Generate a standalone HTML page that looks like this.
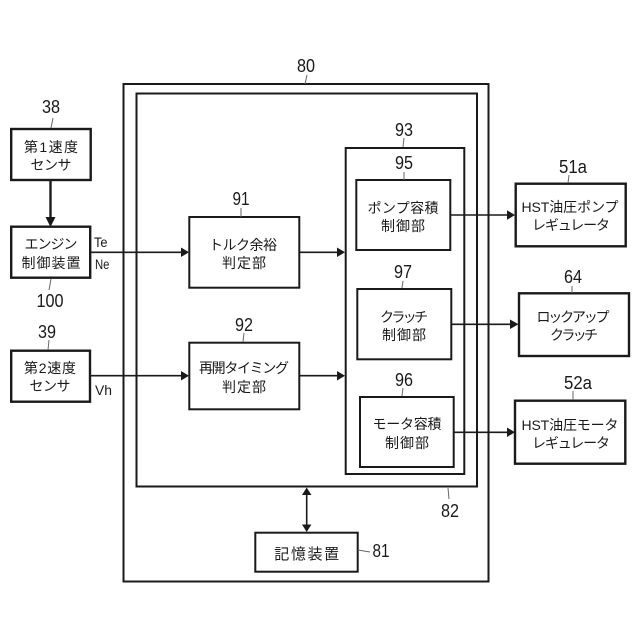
<!DOCTYPE html>
<html><head><meta charset="utf-8">
<style>
html,body{margin:0;padding:0;background:#fff;width:640px;height:640px;overflow:hidden}
svg{display:block}
.j{font-family:"Liberation Sans","Noto Sans CJK JP",sans-serif;font-size:14px;fill:#1a1a1a;text-anchor:middle}
.n{font-family:"Liberation Sans",sans-serif;font-size:18px;fill:#1a1a1a;text-anchor:middle}
.s{font-family:"Liberation Sans",sans-serif;font-size:14px;fill:#1a1a1a}
.b{fill:none;stroke:#1a1a1a;stroke-width:2}
.t{fill:none;stroke:#1a1a1a;stroke-width:2.4}
.l{stroke:#1a1a1a;stroke-width:1.6;fill:none}
.k{stroke:#666;stroke-width:1;fill:none}
.a{fill:#1a1a1a;stroke:none}
</style></head><body>
<svg width="640" height="640" viewBox="0 0 640 640" xmlns="http://www.w3.org/2000/svg">
<rect class="b" x="123.5" y="84" width="365" height="497.5"/>
<rect class="b" x="136.5" y="93.5" width="340.5" height="393"/>
<rect class="b" x="345.7" y="148" width="118.6" height="326"/>
<rect class="b" x="189.3" y="217" width="110" height="70.7"/>
<rect class="b" x="189.3" y="342.7" width="110" height="66.6"/>
<rect class="b" x="356.3" y="180" width="94" height="70"/>
<rect class="b" x="357.3" y="289" width="94" height="70.3"/>
<rect class="b" x="360" y="397" width="93.7" height="70"/>
<rect class="b" x="255.3" y="532.7" width="102.4" height="39"/>
<rect class="t" x="11.2" y="129" width="79.5" height="51"/>
<rect class="t" x="11.2" y="226.7" width="79" height="51"/>
<rect class="t" x="11.2" y="350.7" width="78.8" height="51"/>
<rect class="t" x="515.7" y="183.7" width="110" height="62.6"/>
<rect class="t" x="519" y="293.3" width="110" height="62.7"/>
<rect class="t" x="515" y="400.7" width="110.3" height="63"/>

<line class="t" x1="50.5" y1="180" x2="50.5" y2="218"/><polygon class="a" points="45.5,217 55.5,217 50.5,227"/>
<line class="l" x1="90" y1="252.3" x2="182" y2="252.3"/><polygon class="a" points="181,247.5 189,252.3 181,257"/>
<line class="l" x1="90" y1="375.7" x2="182" y2="375.7"/><polygon class="a" points="181,371 189,375.7 181,380.5"/>
<line class="l" x1="299" y1="252.3" x2="338" y2="252.3"/><polygon class="a" points="337,247.5 345,252.3 337,257"/>
<line class="l" x1="299" y1="375.7" x2="338" y2="375.7"/><polygon class="a" points="337,371 345,375.7 337,380.5"/>
<line class="l" x1="450" y1="215" x2="508" y2="215"/><polygon class="a" points="507,210.3 515,215 507,219.8"/>
<line class="l" x1="451" y1="324.3" x2="511" y2="324.3"/><polygon class="a" points="510,319.5 518.5,324.3 510,329"/>
<line class="l" x1="453.5" y1="432.3" x2="508" y2="432.3"/><polygon class="a" points="507,427.5 515,432.3 507,437"/>
<line class="l" x1="306.7" y1="494" x2="306.7" y2="526"/><polygon class="a" points="306.7,487.5 302,495 311.4,495"/><polygon class="a" points="306.7,532 302,524.5 311.4,524.5"/>

<path class="k" d="M53 118L51 128M51 279L49 290M49 340L48 350M307 75L305 84M241 208L241 217M244 333L243 342M404 138L403 147M404 172L404 180M403 281L402 288M403 388L402 396M569 175L568 183M572 286L572 293M573 391L573 400M448 488L449 499M358 550L370 552"/>

<text class="n" x="51" y="113" textLength="18" lengthAdjust="spacingAndGlyphs">38</text>
<text class="n" x="50" y="307" textLength="27" lengthAdjust="spacingAndGlyphs">100</text>
<text class="n" x="47" y="338" textLength="18" lengthAdjust="spacingAndGlyphs">39</text>
<text class="n" x="306" y="72" textLength="18" lengthAdjust="spacingAndGlyphs">80</text>
<text class="n" x="241" y="205" textLength="17" lengthAdjust="spacingAndGlyphs">91</text>
<text class="n" x="244" y="331" textLength="18" lengthAdjust="spacingAndGlyphs">92</text>
<text class="n" x="404" y="136" textLength="18" lengthAdjust="spacingAndGlyphs">93</text>
<text class="n" x="404" y="169" textLength="18" lengthAdjust="spacingAndGlyphs">95</text>
<text class="n" x="403" y="278" textLength="18" lengthAdjust="spacingAndGlyphs">97</text>
<text class="n" x="404" y="386" textLength="18" lengthAdjust="spacingAndGlyphs">96</text>
<text class="n" x="573" y="173" textLength="28" lengthAdjust="spacingAndGlyphs">51a</text>
<text class="n" x="573" y="283" textLength="18" lengthAdjust="spacingAndGlyphs">64</text>
<text class="n" x="578" y="389" textLength="28" lengthAdjust="spacingAndGlyphs">52a</text>
<text class="n" x="450" y="517" textLength="18" lengthAdjust="spacingAndGlyphs">82</text>
<text class="n" x="381" y="557" textLength="17" lengthAdjust="spacingAndGlyphs">81</text>

<text class="s" x="94" y="247" textLength="13.5" lengthAdjust="spacingAndGlyphs">Te</text>
<text class="s" x="95" y="269" textLength="14.5" lengthAdjust="spacingAndGlyphs">Ne</text>
<text class="s" x="95" y="395" textLength="17" lengthAdjust="spacingAndGlyphs">Vh</text>

<text class="j" x="51" y="152" textLength="54" lengthAdjust="spacing">第1速度</text>
<text class="j" x="51" y="170" textLength="41" lengthAdjust="spacing">センサ</text>
<text class="j" x="51" y="249" textLength="53" lengthAdjust="spacing">エンジン</text>
<text class="j" x="51" y="268" textLength="59" lengthAdjust="spacing">制御装置</text>
<text class="j" x="50" y="373" textLength="52" lengthAdjust="spacing">第2速度</text>
<text class="j" x="50" y="391" textLength="41" lengthAdjust="spacing">センサ</text>
<text class="j" x="243" y="250" textLength="68" lengthAdjust="spacing">トルク余裕</text>
<text class="j" x="244" y="268" textLength="44" lengthAdjust="spacing">判定部</text>
<text class="j" x="244" y="373" textLength="90" lengthAdjust="spacing">再開タイミング</text>
<text class="j" x="244" y="392" textLength="44" lengthAdjust="spacing">判定部</text>
<text class="j" x="403" y="213" textLength="71" lengthAdjust="spacing">ポンプ容積</text>
<text class="j" x="403" y="231" textLength="44" lengthAdjust="spacing">制御部</text>
<text class="j" x="404" y="322" textLength="48" lengthAdjust="spacing">クラッチ</text>
<text class="j" x="404" y="340" textLength="44" lengthAdjust="spacing">制御部</text>
<text class="j" x="407" y="429" textLength="69" lengthAdjust="spacing">モータ容積</text>
<text class="j" x="407" y="448" textLength="44" lengthAdjust="spacing">制御部</text>
<text class="j" x="570" y="212" textLength="97" lengthAdjust="spacing">HST油圧ポンプ</text>
<text class="j" x="571" y="230" textLength="78" lengthAdjust="spacing">レギュレータ</text>
<text class="j" x="573" y="322" textLength="73" lengthAdjust="spacing">ロックアップ</text>
<text class="j" x="574" y="340" textLength="48" lengthAdjust="spacing">クラッチ</text>
<text class="j" x="570" y="430" textLength="97" lengthAdjust="spacing">HST油圧モータ</text>
<text class="j" x="571" y="448" textLength="78" lengthAdjust="spacing">レギュレータ</text>
<text class="j" x="306.7" y="559" textLength="65" lengthAdjust="spacing" style="font-size:15px">記憶装置</text>
</svg>
</body></html>
